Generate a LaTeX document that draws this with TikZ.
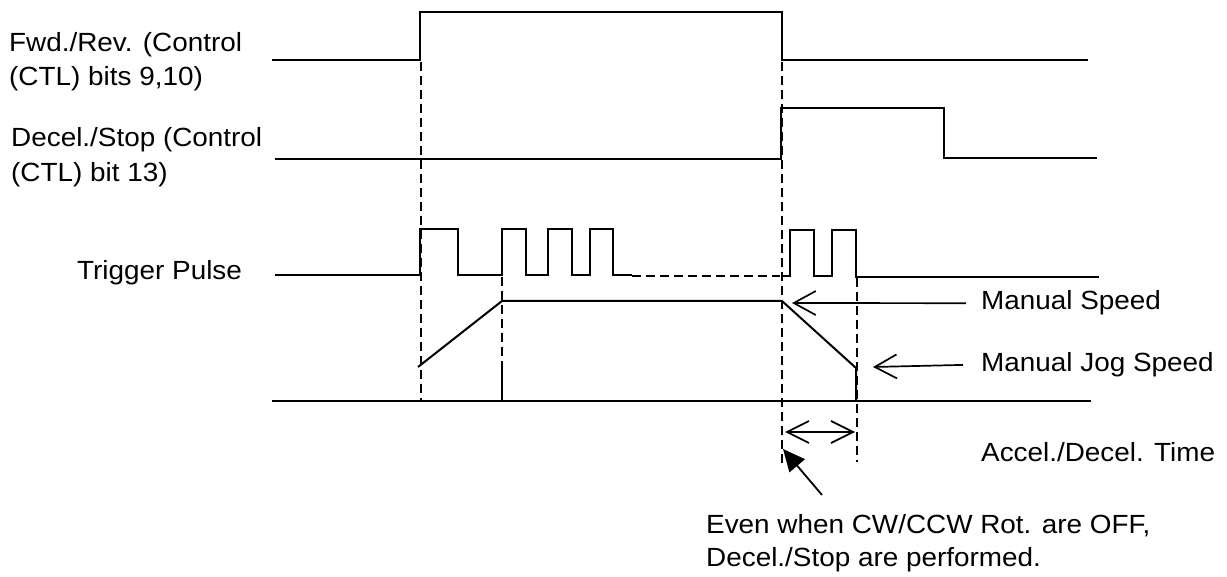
\documentclass[tikz,border=0pt]{standalone}
\usepackage{fontspec}
\setmainfont{Liberation Sans}[FakeStretch=1.06]
\usetikzlibrary{arrows.meta}
\begin{document}
\begin{tikzpicture}[x=1pt,y=-1pt,
  sig/.style={line width=2pt, line join=miter},
  dsh/.style={line width=1.8pt, dash pattern=on 9pt off 5pt},
  lbl/.style={anchor=base west, inner sep=0pt, font=\fontsize{26.3pt}{34pt}\selectfont},
  barb/.style={line width=1.7pt, -{Straight Barb[length=22pt,width=24pt]}},
  dbarb/.style={line width=1.7pt, {Straight Barb[length=22pt,width=22pt]}-{Straight Barb[length=22pt,width=22pt]}},
  fillarrow/.style={line width=1.8pt, -{Triangle[length=22pt,width=20pt]}}]
\useasboundingbox (0,0) rectangle (1227,577);
\fill[white] (0,0) rectangle (1227,577);

% labels
\node[lbl] (fwd1) at (9,51.5) {Fwd./Rev. (Control};
\node[lbl] (fwd2) at (9,85.5) {(CTL) bits 9,10)};
\node[lbl] (dec1) at (11,146.7) {Decel./Stop (Control};
\node[lbl] (dec2) at (11,181.7) {(CTL) bit 13)};
\node[lbl] (trg) at (77,280) {Trigger Pulse};
\node[lbl] (ms) at (981,310) {Manual Speed};
\node[lbl] (mj) at (981,371.7) {Manual Jog Speed};
\node[lbl] (adt) at (981,461.7) {Accel./Decel. Time};
\node[lbl] (note1) at (706,533) {Even when CW/CCW Rot. are OFF,};
\node[lbl] (note2) at (706,566) {Decel./Stop are performed.};

% Fwd./Rev.
\draw[sig] (272,60) -- (420,60) -- (420,12) -- (782,12) -- (782,60) -- (1088,60);
% Decel./Stop
\draw[sig] (275,159) -- (781,159) -- (781,108) -- (944,108) -- (944,158) -- (1097,158);
% Trigger pulse
\draw[sig] (275,275) -- (420,275) -- (420,229) -- (458,229) -- (458,275) -- (502,275)
  -- (502,229) -- (526,229) -- (526,275) -- (548,275) -- (548,229) -- (572,229)
  -- (572,275) -- (590,275) -- (590,229) -- (613,229) -- (613,275) -- (632,275);
\draw[dsh] (632,276) -- (780,276);
\draw[sig] (781,276) -- (790,276) -- (790,230) -- (814,230) -- (814,276) -- (832,276)
  -- (832,230) -- (856,230) -- (856,277) -- (1099,277);

% speed profile
\draw[sig] (418,367) -- (502,301) -- (782,301) -- (856,368) -- (856,401);
\draw[sig] (502,362) -- (502,401);
\draw[sig] (272,401) -- (1091,401);

% dashed guides
\draw[dsh] (421,62) -- (421,401);
\draw[dsh] (502,277) -- (502,401);
\draw[dsh] (782,62) -- (782,463);
\draw[dsh] (857,278) -- (857,462);

% arrows
\coordinate (msTip) at (792,303);
\coordinate (mjTip) at (873,367);
\draw[barb] ([xshift=-15pt]ms.west) -- (msTip);
\draw[barb] ([xshift=-18pt]mj.west) -- (mjTip);
\coordinate (adL) at (785,432);
\coordinate (adR) at (855,432);
\draw[dbarb] (adL) -- (adR);
\coordinate (noteTail) at (822,495);
\coordinate (noteTip) at (783,449);
\draw[fillarrow] (noteTail) -- (noteTip);
\end{tikzpicture}
\end{document}
